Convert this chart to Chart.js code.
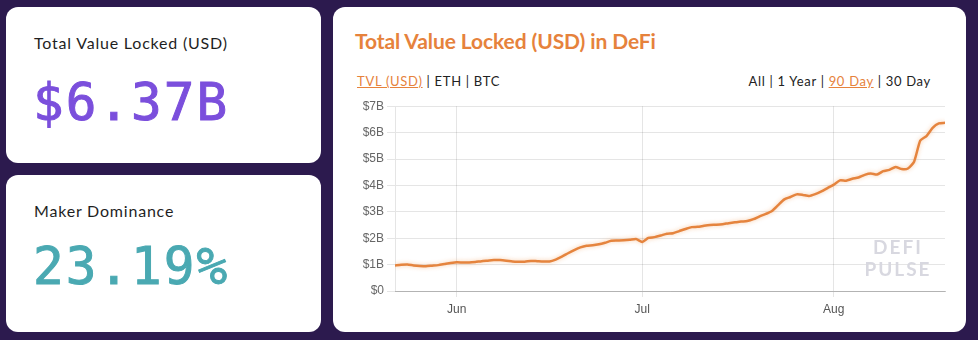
<!DOCTYPE html>
<html>
<head>
<meta charset="utf-8">
<script src="https://cdn.jsdelivr.net/npm/chart.js@4.4.1/dist/chart.umd.min.js"></script>
<style>
  html, body { margin: 0; padding: 0; }
  body { width: 978px; height: 340px; background: #2c1a4e; position: relative; overflow: hidden; font-family: Lato, "Noto Sans", sans-serif; }
  .card { position: absolute; background: #fff; border-radius: 12px; }
  .label { position: absolute; left: 28px; font-size: 16px; color: #1f1f1f; letter-spacing: 0.8px; }
  .big { position: absolute; left: 27px; font-family: "DejaVu Sans Mono", monospace; font-size: 51px; letter-spacing: 2px; -webkit-text-stroke: 1px currentColor; }
  #title { position: absolute; left: 22px; top: 21px; font-size: 21px; font-weight: 700; color: #e6823c; letter-spacing: -0.1px; }
  .links { position: absolute; top: 66px; font-size: 13px; color: #222; white-space: pre; letter-spacing: 0.7px; }
  .links span.on { color: #e6823c; text-decoration: underline; }
  #chartWrap { position: absolute; left: 340px; top: 96px; width: 620px; height: 230px; }
  #mark { position: absolute; left: 855px; top: 236px; width: 86px; text-align: center; color: #d8d8e0; font-size: 19px; font-weight: 700; line-height: 22px; letter-spacing: 2px; }
</style>
</head>
<body>
  <div class="card" style="left:6px; top:7px; width:315px; height:156px;">
    <div class="label" style="top:26px;">Total Value Locked (USD)</div>
    <div class="big" style="top:66px; color:#7b4fdc;">$6.37B</div>
  </div>
  <div class="card" style="left:6px; top:175px; width:315px; height:157px;">
    <div class="label" style="top:26px;">Maker Dominance</div>
    <div class="big" style="top:62px; color:#4aa9b2;">23.19%</div>
  </div>
  <div class="card" style="left:333px; top:7px; width:633px; height:325px;">
    <div id="title">Total Value Locked (USD) in DeFi</div>
    <div class="links" style="left:24px;"><span class="on">TVL (USD)</span> | ETH | BTC</div>
    <div class="links" style="right:35px;">All | 1 Year | <span class="on">90 Day</span> | 30 Day</div>
  </div>
  <div id="chartWrap"><canvas id="tvlChart" width="620" height="230"></canvas></div>
  <div id="mark">DEFI<br>PULSE</div>

<script>
// daily TVL in billions USD, May 22 -> Aug 19
const tvlBillions = [
  0.97, 0.99, 1.00, 0.97, 0.95, 0.94, 0.96, 0.98, 1.02, 1.06,
  1.09, 1.08, 1.08, 1.10, 1.13, 1.15, 1.17, 1.17, 1.15, 1.12,
  1.11, 1.11, 1.14, 1.13, 1.12, 1.12, 1.19, 1.30, 1.43, 1.55,
  1.65, 1.71, 1.73, 1.77, 1.83, 1.90, 1.91, 1.92, 1.94, 1.97,
  1.86, 2.01, 2.04, 2.10, 2.17, 2.19, 2.27, 2.35, 2.42, 2.43,
  2.47, 2.50, 2.51, 2.53, 2.57, 2.60, 2.63, 2.65, 2.72, 2.83,
  2.92, 3.03, 3.25, 3.47, 3.56, 3.66, 3.64, 3.60, 3.67, 3.77,
  3.90, 4.03, 4.19, 4.18, 4.25, 4.30, 4.40, 4.45, 4.41, 4.54,
  4.59, 4.70, 4.62, 4.64, 4.90, 5.70, 5.87, 6.18, 6.35, 6.37
];
const tickLabels = ['Jun', 'Jul', 'Aug'];
const tickDays = [10, 40, 71]; // day index of the 1st of each month

const points = tvlBillions.map(function(v, i) { return { x: i, y: v }; });

const glow = {
  id: 'glow',
  beforeDatasetDraw: function(chart) {
    chart.ctx.save();
    chart.ctx.shadowColor = 'rgba(240, 140, 60, 0.45)';
    chart.ctx.shadowBlur = 4;
  },
  afterDatasetDraw: function(chart) {
    chart.ctx.restore();
  }
};

const tickFont = { family: "'Liberation Sans', Arial, sans-serif", size: 12 };

new Chart(document.getElementById('tvlChart').getContext('2d'), {
  type: 'line',
  data: {
    datasets: [{
      label: 'TVL (USD)',
      data: points,
      borderColor: '#e5843e',
      borderWidth: 2.5,
      pointRadius: 0,
      fill: false,
      tension: 0.2
    }]
  },
  plugins: [glow],
  options: {
    responsive: false,
    animation: false,
    layout: { padding: { top: 8, right: 15, left: 0, bottom: 0 } },
    plugins: { legend: { display: false }, tooltip: { enabled: false } },
    scales: {
      x: {
        type: 'linear',
        min: 0,
        max: tvlBillions.length - 1,
        afterBuildTicks: function(axis) {
          axis.ticks = tickDays.map(function(d) { return { value: d }; });
        },
        afterFit: function(scale) { scale.height = 35; },
        grid: { color: 'rgba(0,0,0,0.1)', tickLength: 6 },
        border: { color: 'rgba(0,0,0,0.22)' },
        ticks: {
          autoSkip: false,
          maxRotation: 0,
          color: '#555',
          font: tickFont,
          padding: 5,
          callback: function(value) { return tickLabels[tickDays.indexOf(value)]; }
        }
      },
      y: {
        min: 0,
        max: 7,
        afterFit: function(scale) { scale.width = 55; },
        grid: { color: 'rgba(0,0,0,0.1)', tickLength: 8 },
        border: { color: 'rgba(0,0,0,0.1)' },
        ticks: {
          stepSize: 1,
          color: '#666',
          font: tickFont,
          padding: 3,
          callback: function(value) { return value === 0 ? '$0' : '$' + value + 'B'; }
        }
      }
    }
  }
});
</script>
</body>
</html>
